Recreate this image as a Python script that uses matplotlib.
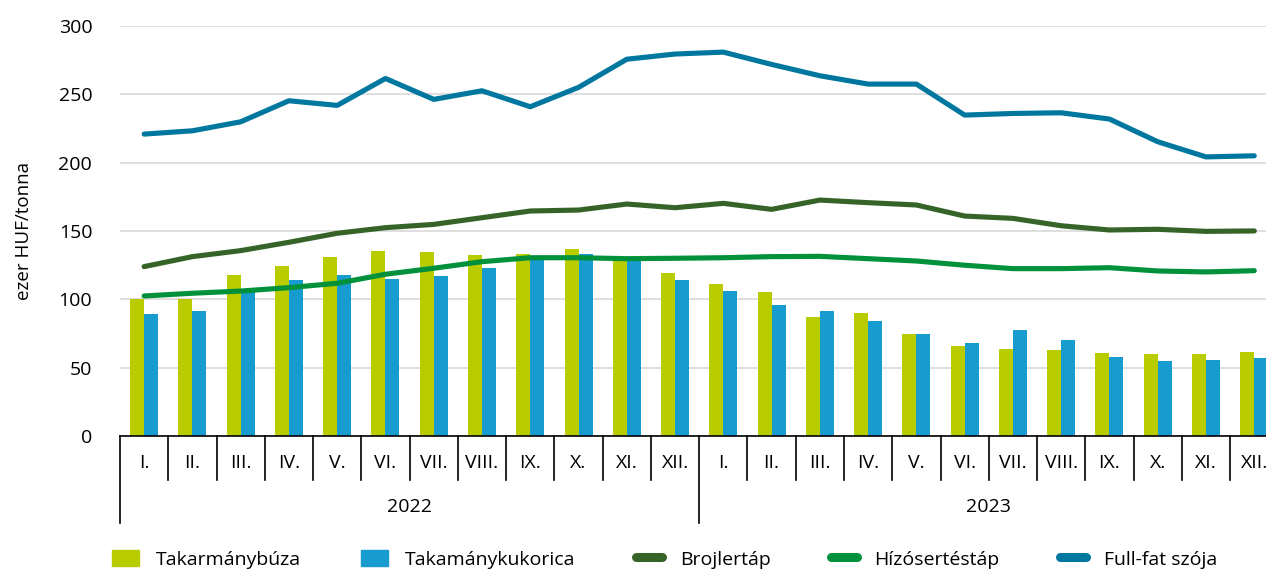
import matplotlib.pyplot as plt
import matplotlib.transforms as mtransforms
from matplotlib.lines import Line2D
from matplotlib.patches import Patch
import numpy as np

plt.rcParams['font.family'] = ['Open Sans', 'DejaVu Sans']

# ── Adatok ───────────────────────────────────────────────────────────────────
MONTHS = ["I.", "II.", "III.", "IV.", "V.", "VI.", "VII.", "VIII.", "IX.", "X.", "XI.", "XII."]
YEARS = ["2022", "2023"]

BUZA = [100, 100, 118, 124, 131, 135, 134.6, 132.4, 133, 136.8, 130, 119.2,
        111.4, 105.1, 87.3, 90.2, 74.8, 66.1, 63.9, 62.9, 60.5, 60, 59.7, 61.4]
KUKORICA = [89.5, 91.2, 107, 114.1, 117.5, 114.6, 117, 122.9, 132, 133, 128, 113.9,
            106.1, 95.8, 91.2, 83.9, 74.8, 68, 77.5, 70.2, 57.6, 54.9, 55.8, 57]
BROJLER = [123.9, 131.2, 135.6, 141.7, 148.3, 152.4, 154.8, 159.7, 164.6, 165.3, 169.7, 167,
           170.2, 165.8, 172.6, 170.7, 169, 160.9, 159.2, 153.8, 150.7, 151.2, 149.7, 150]
HIZO = [102.4, 104.4, 106, 108.5, 111.7, 118.3, 122.7, 127.5, 130.4, 130.4, 129.7, 130,
        130.4, 131.2, 131.4, 129.7, 128, 124.9, 122.4, 122.4, 123.1, 120.7, 120, 120.9]
SZOJA = [220.9, 223.3, 229.9, 245.3, 241.9, 261.6, 246.3, 252.6, 240.9, 255.1, 275.7, 279.5,
         280.9, 271.9, 263.6, 257.5, 257.5, 234.8, 236, 236.5, 231.9, 215.3, 204.2, 205]

C_BUZA = "#b8cc00"
C_KUK = "#189bce"
C_BROJ = "#366428"
C_HIZO = "#00913a"
C_SZOJA = "#00779e"

FS = 14

fig = plt.figure(figsize=(12.66, 5.72), dpi=100)
ax = fig.add_axes([0.0948, 0.238, 0.915, 0.7165])

n = len(BUZA)
x = np.arange(n)
w = 0.29

ax.bar(x - w/2, BUZA, w, color=C_BUZA, zorder=2)
ax.bar(x + w/2, KUKORICA, w, color=C_KUK, zorder=2)
lw = 3.7
for vals, col in [(BROJLER, C_BROJ), (HIZO, C_HIZO), (SZOJA, C_SZOJA)]:
    ax.plot(x, vals, color=col, lw=lw, solid_capstyle="round", solid_joinstyle="round", zorder=3)

ax.set_xlim(-0.5, n - 0.5)
ax.set_ylim(0, 300)
ax.set_yticks(range(0, 301, 50))
ax.tick_params(axis="y", length=0, labelsize=FS, pad=20)
ax.grid(axis="y", color="#d9d9d9", lw=1.2, zorder=0)
ax.set_axisbelow(True)
for s in ["top", "right", "left"]:
    ax.spines[s].set_visible(False)
ax.spines["bottom"].set_color("black")
ax.spines["bottom"].set_linewidth(1.2)
ax.set_xticks([])
ax.set_ylabel("ezer HUF/tonna", fontsize=13.5, labelpad=18)

# kategória-tengely (hónap + év)
trans = mtransforms.blended_transform_factory(ax.transData, ax.transAxes)
h_ax = 0.7165 * 5.72 * 100  # axes magasság pixelben
def ay(px):
    return -px / h_ax

for i in range(n + 1):
    edge = i - 0.5
    bottom = 87 if i % 12 == 0 else 44
    ax.plot([edge, edge], [0, ay(bottom)], transform=trans, color="black", lw=1.2, clip_on=False)
for i in range(n):
    ax.text(i, ay(27), MONTHS[i % 12], transform=trans, ha="center", va="center", fontsize=FS)
for j, yr in enumerate(YEARS):
    ax.text(j * 12 + 5.5, ay(71), yr, transform=trans, ha="center", va="center", fontsize=FS)

handles = [
    Patch(color=C_BUZA, label="Takarmánybúza"),
    Patch(color=C_KUK, label="Takamánykukorica"),
    Line2D([], [], color=C_BROJ, lw=6.5, solid_capstyle="round", label="Brojlertáp"),
    Line2D([], [], color=C_HIZO, lw=6.5, solid_capstyle="round", label="Hízósertéstáp"),
    Line2D([], [], color=C_SZOJA, lw=6.5, solid_capstyle="round", label="Full-fat szója"),
]
fig.legend(handles=handles, loc="center", bbox_to_anchor=(0.525, 0.022), ncol=5, frameon=False,
           fontsize=FS, handlelength=1.35, handleheight=0.9, columnspacing=3.1, handletextpad=0.9)

plt.savefig("out.png", dpi=100)
